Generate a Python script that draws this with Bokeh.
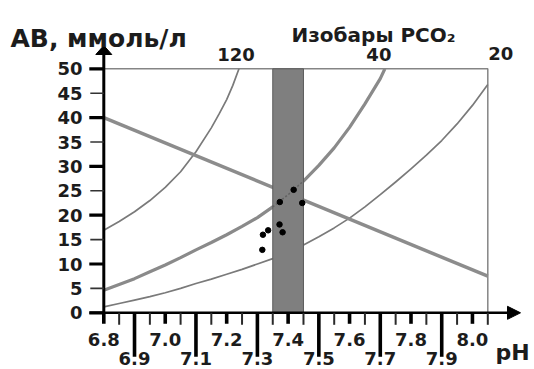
import numpy as np
from bokeh.plotting import figure
from bokeh.models import Range1d
from bokeh.core.properties import value
from bokeh.embed import file_html
from bokeh.resources import INLINE

# ---------------- data ----------------
ph_even = [6.8, 7.0, 7.2, 7.4, 7.6, 7.8, 8.0]
ph_even_labels = ["6.8", "7.0", "7.2", "7.4", "7.6", "7.8", "8.0"]
ph_odd = [6.9, 7.1, 7.3, 7.5, 7.7, 7.9]
ph_odd_labels = ["6.9", "7.1", "7.3", "7.5", "7.7", "7.9"]
ph_minor = [6.85, 6.95, 7.05, 7.15, 7.25, 7.35, 7.45, 7.55, 7.65, 7.75, 7.85, 7.95, 8.05]
ab_major = [0, 10, 20, 30, 40, 50]
ab_minor = [5, 15, 25, 35, 45]
ab_labels = ["0", "5", "10", "15", "20", "25", "30", "35", "40", "45", "50"]
ab_label_vals = [0, 5, 10, 15, 20, 25, 30, 35, 40, 45, 50]
ph_min, ph_max, ab_max = 6.8, 8.05, 50

isobar_labels = ["120", "40", "20"]
iso120_ph = [6.80, 6.85, 6.90, 6.95, 7.00, 7.05, 7.10, 7.15, 7.175, 7.20, 7.22, 7.24]
iso120_ab = [16.9, 18.7, 20.7, 23.0, 25.7, 28.9, 33.0, 37.9, 40.7, 43.7, 46.6, 50.0]
iso40_ph = [6.80, 6.85, 6.90, 6.95, 7.00, 7.05, 7.10, 7.15, 7.20, 7.25, 7.30, 7.35, 7.40,
            7.45, 7.50, 7.55, 7.60, 7.65, 7.70, 7.715]
iso40_ab = [4.6, 5.8, 7.0, 8.4, 9.8, 11.3, 12.9, 14.4, 16.0, 17.7, 19.5, 21.7, 24.2,
            27.0, 30.2, 33.8, 38.0, 42.8, 48.0, 50.0]
iso20_ph = [6.80, 6.85, 6.90, 6.95, 7.00, 7.05, 7.10, 7.15, 7.20, 7.25, 7.30, 7.35, 7.40,
            7.45, 7.50, 7.55, 7.60, 7.65, 7.70, 7.75, 7.80, 7.85, 7.90, 7.95, 8.00, 8.05]
iso20_ab = [1.2, 1.9, 2.6, 3.3, 4.1, 5.0, 6.0, 6.9, 7.9, 8.9, 10.0, 11.1, 12.4,
            13.9, 15.6, 17.4, 19.4, 21.7, 24.2, 26.8, 29.5, 32.3, 35.3, 38.7, 42.5, 46.8]

buffer_ph = [6.8, 8.05]
buffer_ab = [40.0, 7.5]

norm_ph_low, norm_ph_high = 7.35, 7.45

pat_ph = [7.316, 7.318, 7.335, 7.373, 7.418, 7.446, 7.372, 7.382]
pat_ab = [12.9, 16.0, 16.9, 22.7, 25.2, 22.5, 18.1, 16.5]

# ---------------- layout (pixels) ----------------
W, H = 534, 369
X_PX0 = 103.3      # pixel column of pH 6.8
PX_PER_PH = 307.2
Y_PX0 = 312.3      # pixel row of AB = 0
PX_PER_AB = 4.88


def dx(px):
    return px / PX_PER_PH


def dy(px):
    return px / PX_PER_AB


def X(px):
    return ph_min + dx(px - X_PX0)


def Y(py):
    return dy(Y_PX0 - py)


p = figure(width=W, height=H, output_backend="svg", toolbar_location=None,
           x_range=Range1d(X(0), X(W)), y_range=Range1d(Y(H), Y(0)),
           x_axis_type=None, y_axis_type=None, min_border=0,
           background_fill_color="white", border_fill_color="white")
p.grid.visible = False
p.outline_line_color = None

FONT = value("DejaVu Sans")
INK = "#1c1c1c"
GRAY = "#858585"

# frame (top and right)
p.line([ph_min, ph_max, ph_max], [ab_max, ab_max, 0], line_color=GRAY, line_width=1.5)

# isobars
p.line(iso120_ph, iso120_ab, line_color="#7a7a7a", line_width=1.7, line_join="round")
p.line(iso20_ph, iso20_ab, line_color="#7a7a7a", line_width=1.7, line_join="round")
p.line(iso40_ph, iso40_ab, line_color="#8a8a8a", line_width=3.2, line_join="round")

# buffer line
p.line(buffer_ph, buffer_ab, line_color="#8c8c8c", line_width=3.5)

# normal pH band
p.quad(left=[norm_ph_low], right=[norm_ph_high], bottom=[0], top=[ab_max],
       fill_color="#7f7f7f", line_color="#5c5c5c", line_width=1)

# faint continuation of the 40 isobar through the band
i40p = np.array(iso40_ph)
mask = (i40p >= norm_ph_low - 1e-9) & (i40p <= norm_ph_high + 1e-9)
p.line(i40p[mask], np.array(iso40_ab)[mask], line_color="#5a5a5a", line_width=1.5,
       line_dash="2 2", line_alpha=0.8)

# patient points
p.scatter(pat_ph, pat_ab, size=5.5, fill_color="black", line_color="black")

# axes lines
p.segment(x0=[X(89)], y0=[0], x1=[X(510)], y1=[0], line_color="black", line_width=2.5)
p.segment(x0=[ph_min], y0=[-dy(1)], x1=[ph_min], y1=[Y(52)], line_color="black", line_width=3)
# arrow heads
p.patches(xs=[[ph_min - dx(8), ph_min, ph_min + dx(8)],
              [X(507), X(520), X(507)]],
          ys=[[Y(54), Y(45), Y(54)],
              [dy(6.5), 0, -dy(6.5)]],
          fill_color="black", line_color="black")

# y ticks
p.segment(x0=[ph_min - dx(14.5)] * len(ab_major), y0=ab_major,
          x1=[ph_min] * len(ab_major), y1=ab_major, line_color="black", line_width=3.2)
p.segment(x0=[ph_min - dx(13.5)] * len(ab_minor), y0=ab_minor,
          x1=[ph_min] * len(ab_minor), y1=ab_minor, line_color="#333333", line_width=1.6)

# x ticks
p.segment(x0=ph_minor, y0=[0] * len(ph_minor), x1=ph_minor, y1=[-dy(12)] * len(ph_minor),
          line_color="#2a2a2a", line_width=2)
p.segment(x0=ph_even, y0=[0] * len(ph_even), x1=ph_even, y1=[-dy(11)] * len(ph_even),
          line_color="black", line_width=3.6)
p.segment(x0=ph_odd, y0=[0] * len(ph_odd), x1=ph_odd, y1=[-dy(44)] * len(ph_odd),
          line_color="black", line_width=3.6)

# tick labels
p.text(x=[X(82)] * len(ab_labels), y=ab_label_vals, text=ab_labels, text_font=FONT,
       text_font_style="bold", text_font_size="18px", text_align="right",
       text_baseline="middle", text_color=INK)
p.text(x=ph_even, y=[Y(339)] * len(ph_even), text=ph_even_labels, text_font=FONT,
       text_font_style="bold", text_font_size="18px", text_align="center",
       text_baseline="middle", text_color=INK)
p.text(x=ph_odd, y=[Y(358)] * len(ph_odd), text=ph_odd_labels, text_font=FONT,
       text_font_style="bold", text_font_size="18px", text_align="center",
       text_baseline="middle", text_color=INK)
p.text(x=[X(495)], y=[Y(352)], text=["pH"], text_font=FONT, text_font_style="bold",
       text_font_size="22px", text_align="left", text_baseline="alphabetic", text_color=INK)

# isobar labels
iso_end_ph = [iso120_ph[-1], iso40_ph[-1], iso20_ph[-1]]
p.text(x=iso_end_ph, y=[ab_max] * 3, text=isobar_labels, x_offset=[-3, -6, 13],
       y_offset=[-14, -14, -15], text_font=FONT, text_font_style="bold",
       text_font_size="18px", text_align="center", text_baseline="middle", text_color=INK)

# titles
p.text(x=[X(10)], y=[Y(37.5)], text=["АВ, ммоль/л"], text_font=FONT, text_font_style="bold",
       text_font_size="25px", text_align="left", text_baseline="alphabetic", text_color=INK)
p.text(x=[X(291)], y=[Y(34)], text=["Изобары PCO₂"], text_font=FONT, text_font_style="bold",
       text_font_size="20px", text_align="left", text_baseline="alphabetic", text_color=INK)

open("out.html", "w").write(file_html(p, INLINE))
